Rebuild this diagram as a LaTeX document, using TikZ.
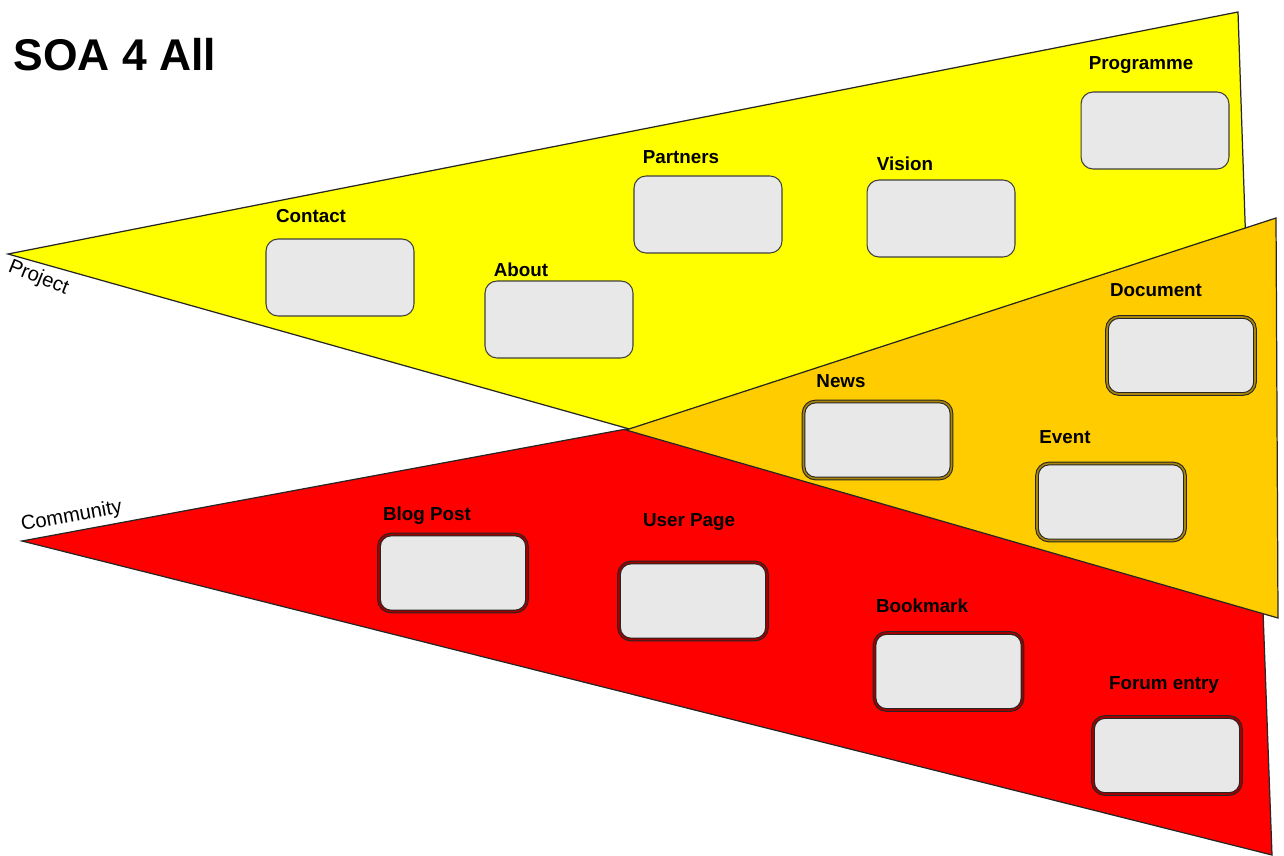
\documentclass[tikz,border=0pt]{standalone}
\usepackage{fontspec}
\setmainfont{Liberation Sans}
\definecolor{cyellow}{HTML}{FFFF00}
\definecolor{corange}{HTML}{FFCC00}
\definecolor{cred}{HTML}{FF0000}
\definecolor{boxfill}{HTML}{E8E8E8}
\definecolor{goldline}{HTML}{A8840A}
\definecolor{redline}{HTML}{A00000}
\tikzset{
  pane/.style={draw=black!85, line width=0.7pt, line join=miter},
  boxbase/.style={rectangle, rounded corners=0.24cm, fill=boxfill, minimum width=2.96cm, minimum height=1.54cm},
  ybox/.style={boxbase, draw=black!75, line width=0.6pt},
  obox/.style={boxbase, draw=black!85, line width=0.6pt, double=goldline, double distance=0.9pt},
  rbox/.style={boxbase, draw=black!85, line width=0.6pt, double=redline, double distance=0.9pt},
  lbl/.style={font=\fontsize{10.7}{12}\selectfont\bfseries, inner sep=0pt},
  side/.style={font=\fontsize{11.5}{13}\selectfont, inner sep=0pt},
}
\begin{document}
\begin{tikzpicture}[x=0.02cm, y=-0.02cm]
\useasboundingbox (0,0) rectangle (1284,855);
% panes
\draw[pane, fill=cred] (22,541) -- (1252,313) -- (1272,855) -- cycle;
\draw[pane, fill=cyellow] (8,254) -- (1238,12) -- (1258,606) -- cycle;
\draw[pane, fill=corange] (626,430) -- (1276,218) -- (1278,618) -- cycle;
% title
\node[font=\fontsize{25.3}{28}\selectfont\bfseries, inner sep=0pt] (title) at (115,55) {SOA 4 All};
% side labels
\node[side, anchor=base west, rotate=-22] (project) at (7,271) {Project};
\node[side, anchor=base west, rotate=10.5] (community) at (22,531) {Community};
% yellow boxes
\node[ybox] (contact) at (340,277.5) {};
\node[lbl] (contactL) at (311,216) {Contact};
\node[ybox] (about) at (559,319.5) {};
\node[lbl] (aboutL) at (521,270) {About};
\node[ybox] (partners) at (708,214.5) {};
\node[lbl] (partnersL) at (681,157) {Partners};
\node[ybox] (vision) at (941,218.5) {};
\node[lbl] (visionL) at (905,164) {Vision};
\node[ybox] (programme) at (1155,130.5) {};
\node[lbl] (programmeL) at (1141,65) {Programme};
% orange boxes
\node[obox] (document) at (1181,355.5) {};
\node[lbl] (documentL) at (1156,290) {Document};
\node[obox] (news) at (877.5,440) {};
\node[lbl] (newsL) at (841,381) {News};
\node[obox] (event) at (1111,502) {};
\node[lbl] (eventL) at (1065,437) {Event};
% red boxes
\node[rbox] (blog) at (453,573) {};
\node[lbl] (blogL) at (427,516) {Blog Post};
\node[rbox] (user) at (693,601) {};
\node[lbl] (userL) at (689,522) {User Page};
\node[rbox] (bookmark) at (948.5,671.5) {};
\node[lbl] (bookmarkL) at (922,606) {Bookmark};
\node[rbox] (forum) at (1167,755.5) {};
\node[lbl] (forumL) at (1164,685) {Forum entry};
\end{tikzpicture}
\end{document}
